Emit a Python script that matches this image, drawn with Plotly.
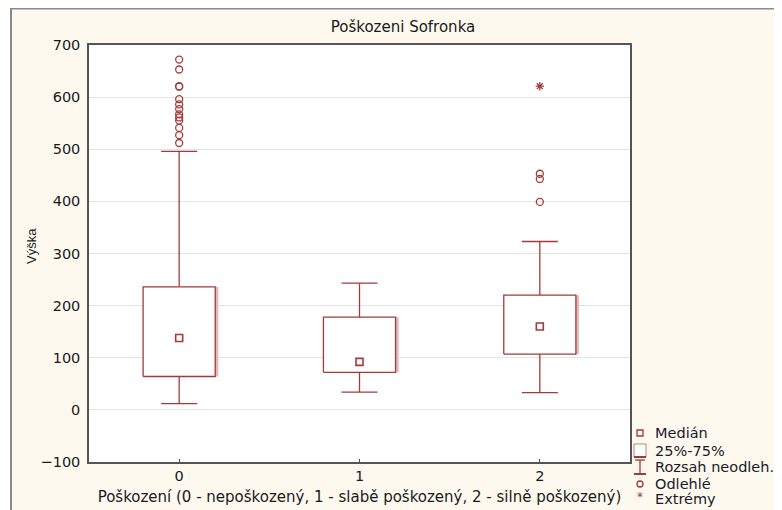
import plotly.graph_objects as go

# ---- data ----
categories = [0, 1, 2]
tick_labels = ["0", "1", "2"]
q1 = [64, 72, 107]
median = [138, 92, 160]
q3 = [236, 178, 220]
whisk_lo = [12, 34, 33]
whisk_hi = [496, 243, 323]
outliers_x = [0] * 13 + [2] * 3
outliers_y = [672, 653, 621, 620, 596, 586, 577, 567, 561, 555, 541, 527, 512,
              453, 443, 399]
extremes_x = [2]
extremes_y = [621]

legend_labels = ["Medián", "25%-75%", "Rozsah neodleh.", "Odlehlé", "Extrémy"]

# ---- style ----
RED = "#a33a3a"
SHADOW = "#e2bcbc"
BOX_HALF = 0.2
CAP_HALF = 0.1
FONT = "DejaVu Sans, Verdana, sans-serif"
FONT2 = "Liberation Sans, Arial, sans-serif"
TXT = "#1a1a1a"

# page offset (browser body margin) and geometry in page pixels
OFF = 8
W, H = 782 - OFF, 510 - OFF
L, R, T, B = 89 - OFF, 630 - OFF, 45 - OFF, 462 - OFF


def px(xp):
    """page pixel x -> paper x"""
    return (xp - OFF - L) / (R - L)


def py(yp):
    """page pixel y -> paper y"""
    return (B - (yp - OFF)) / (B - T)


fig = go.Figure()

# box shadows
sx, sy = [], []
for c, a, b in zip(categories, q1, q3):
    sx += [c + BOX_HALF + 0.009, c + BOX_HALF + 0.009, None]
    sy += [a, b, None]
fig.add_trace(go.Scatter(x=sx, y=sy, mode="lines",
                         line=dict(color=SHADOW, width=3),
                         hoverinfo="skip", showlegend=False))

# whiskers
wx, wy = [], []
for c, lo, a, b, hi in zip(categories, whisk_lo, q1, q3, whisk_hi):
    wx += [c, c, None, c - CAP_HALF, c + CAP_HALF, None,
           c, c, None, c - CAP_HALF, c + CAP_HALF, None]
    wy += [b, hi, None, hi, hi, None,
           lo, a, None, lo, lo, None]
fig.add_trace(go.Scatter(x=wx, y=wy, mode="lines",
                         line=dict(color=RED, width=1.3),
                         hoverinfo="skip", showlegend=False))

# boxes
for c, a, b in zip(categories, q1, q3):
    fig.add_trace(go.Scatter(
        x=[c - BOX_HALF, c + BOX_HALF, c + BOX_HALF, c - BOX_HALF, c - BOX_HALF],
        y=[a, a, b, b, a], mode="lines", fill="toself", fillcolor="white",
        line=dict(color=RED, width=1.3), hoverinfo="skip", showlegend=False))

# medians
fig.add_trace(go.Scatter(x=categories, y=median, mode="markers",
                         marker=dict(symbol="square-open", size=7,
                                     color=RED, line=dict(width=1.6)),
                         showlegend=False))
# outliers
fig.add_trace(go.Scatter(x=outliers_x, y=outliers_y, mode="markers",
                         marker=dict(symbol="circle-open", size=7,
                                     color=RED, line=dict(width=1.3)),
                         showlegend=False))
# extremes
fig.add_trace(go.Scatter(x=extremes_x, y=extremes_y, mode="markers",
                         marker=dict(symbol="asterisk-open", size=7,
                                     color=RED, line=dict(width=1.3)),
                         showlegend=False))

shapes = []
# white strip left of the panel border, and the gray border lines
shapes.append(dict(type="rect", xref="paper", yref="paper",
                   x0=px(0), x1=px(10.5), y0=py(600), y1=py(0),
                   fillcolor="white", line=dict(width=0), layer="above"))
shapes.append(dict(type="line", xref="paper", yref="paper",
                   x0=px(10), x1=px(800), y0=py(8.5), y1=py(8.5),
                   line=dict(color="#8a8a8a", width=2)))
shapes.append(dict(type="line", xref="paper", yref="paper",
                   x0=px(11), x1=px(11), y0=py(8), y1=py(600),
                   line=dict(color="#8a8a8a", width=2)))

# legend symbols
lx = 640
ys = [433, 451, 467, 484, 499]
# median
shapes.append(dict(type="rect", xref="paper", yref="paper",
                   x0=px(lx - 3), x1=px(lx + 3), y0=py(ys[0] + 3), y1=py(ys[0] - 3),
                   line=dict(color=RED, width=1.3), fillcolor="rgba(0,0,0,0)"))
# box
shapes.append(dict(type="rect", xref="paper", yref="paper",
                   x0=px(lx - 6), x1=px(lx + 6), y0=py(ys[1] + 6), y1=py(ys[1] - 7),
                   line=dict(color="#c08080", width=1), fillcolor="white"))
shapes.append(dict(type="line", xref="paper", yref="paper",
                   x0=px(lx - 6), x1=px(lx + 6), y0=py(ys[1] + 6), y1=py(ys[1] + 6),
                   line=dict(color=RED, width=2)))
# whisker I-beam
shapes.append(dict(type="line", xref="paper", yref="paper",
                   x0=px(lx), x1=px(lx), y0=py(ys[2] - 7), y1=py(ys[2] + 7),
                   line=dict(color=RED, width=1.3)))
shapes.append(dict(type="line", xref="paper", yref="paper",
                   x0=px(lx - 5), x1=px(lx + 5), y0=py(ys[2] - 7), y1=py(ys[2] - 7),
                   line=dict(color=RED, width=1.3)))
shapes.append(dict(type="line", xref="paper", yref="paper",
                   x0=px(lx - 6), x1=px(lx + 6), y0=py(ys[2] + 7), y1=py(ys[2] + 7),
                   line=dict(color=RED, width=2)))
# outlier circle
shapes.append(dict(type="circle", xref="paper", yref="paper",
                   x0=px(lx - 3), x1=px(lx + 3), y0=py(ys[3] + 3), y1=py(ys[3] - 3),
                   line=dict(color=RED, width=1.3)))

annotations = []
for yv, lab in zip(ys, legend_labels):
    annotations.append(dict(xref="paper", yref="paper", x=px(653), y=py(yv),
                            text=lab, showarrow=False, xanchor="left",
                            yanchor="middle", xshift=0,
                            font=dict(family=FONT, size=14.5, color="#1a1a2a")))
# extreme legend glyph
annotations.append(dict(xref="paper", yref="paper", x=px(lx), y=py(ys[4] - 2),
                        text="*", showarrow=False, xanchor="center",
                        yanchor="middle",
                        font=dict(family=FONT, size=12, color=RED)))
# y-axis title
annotations.append(dict(xref="paper", yref="paper", x=px(31), y=py(246),
                        text="Výška", showarrow=False, textangle=-90,
                        xanchor="center", yanchor="middle",
                        font=dict(family=FONT2, size=13, color=TXT)))

fig.update_layout(
    width=W, height=H,
    margin=dict(l=L, r=W - R, t=T, b=H - B, pad=0, autoexpand=False),
    paper_bgcolor="#fef9ef",
    plot_bgcolor="white",
    title=dict(text="Poškozeni Sofronka", x=(403 - OFF) / W, xref="container",
               xanchor="center", y=1 - (27 - OFF) / H, yref="container",
               yanchor="middle", automargin=False,
               font=dict(family=FONT, size=15, color=TXT)),
    font=dict(family=FONT, size=14, color=TXT),
    shapes=shapes,
    annotations=annotations,
    showlegend=False,
)
fig.update_xaxes(range=[-0.5, 2.5], tickmode="array", tickvals=categories,
                 ticktext=tick_labels, showgrid=False, zeroline=False,
                 showline=True, linecolor="#555555", linewidth=1.5, mirror=True,
                 ticks="inside", ticklen=3, tickcolor="#555555",
                 automargin=False,
                 title=dict(text="Poškození (0 - nepoškozený, 1 - slabě poškozený, 2 - silně poškozený)",
                            font=dict(size=15), standoff=8),
                 tickfont=dict(size=14.5))
fig.update_yaxes(range=[-100, 700], dtick=100, showgrid=True,
                 gridcolor="#e4e4e4", gridwidth=1, zeroline=False,
                 showline=True, linecolor="#555555", linewidth=1.5, mirror=True,
                 ticks="outside", ticklen=4, tickcolor="rgba(0,0,0,0)",
                 automargin=False,
                 tickfont=dict(size=14.5))

fig.write_html("out.html")
